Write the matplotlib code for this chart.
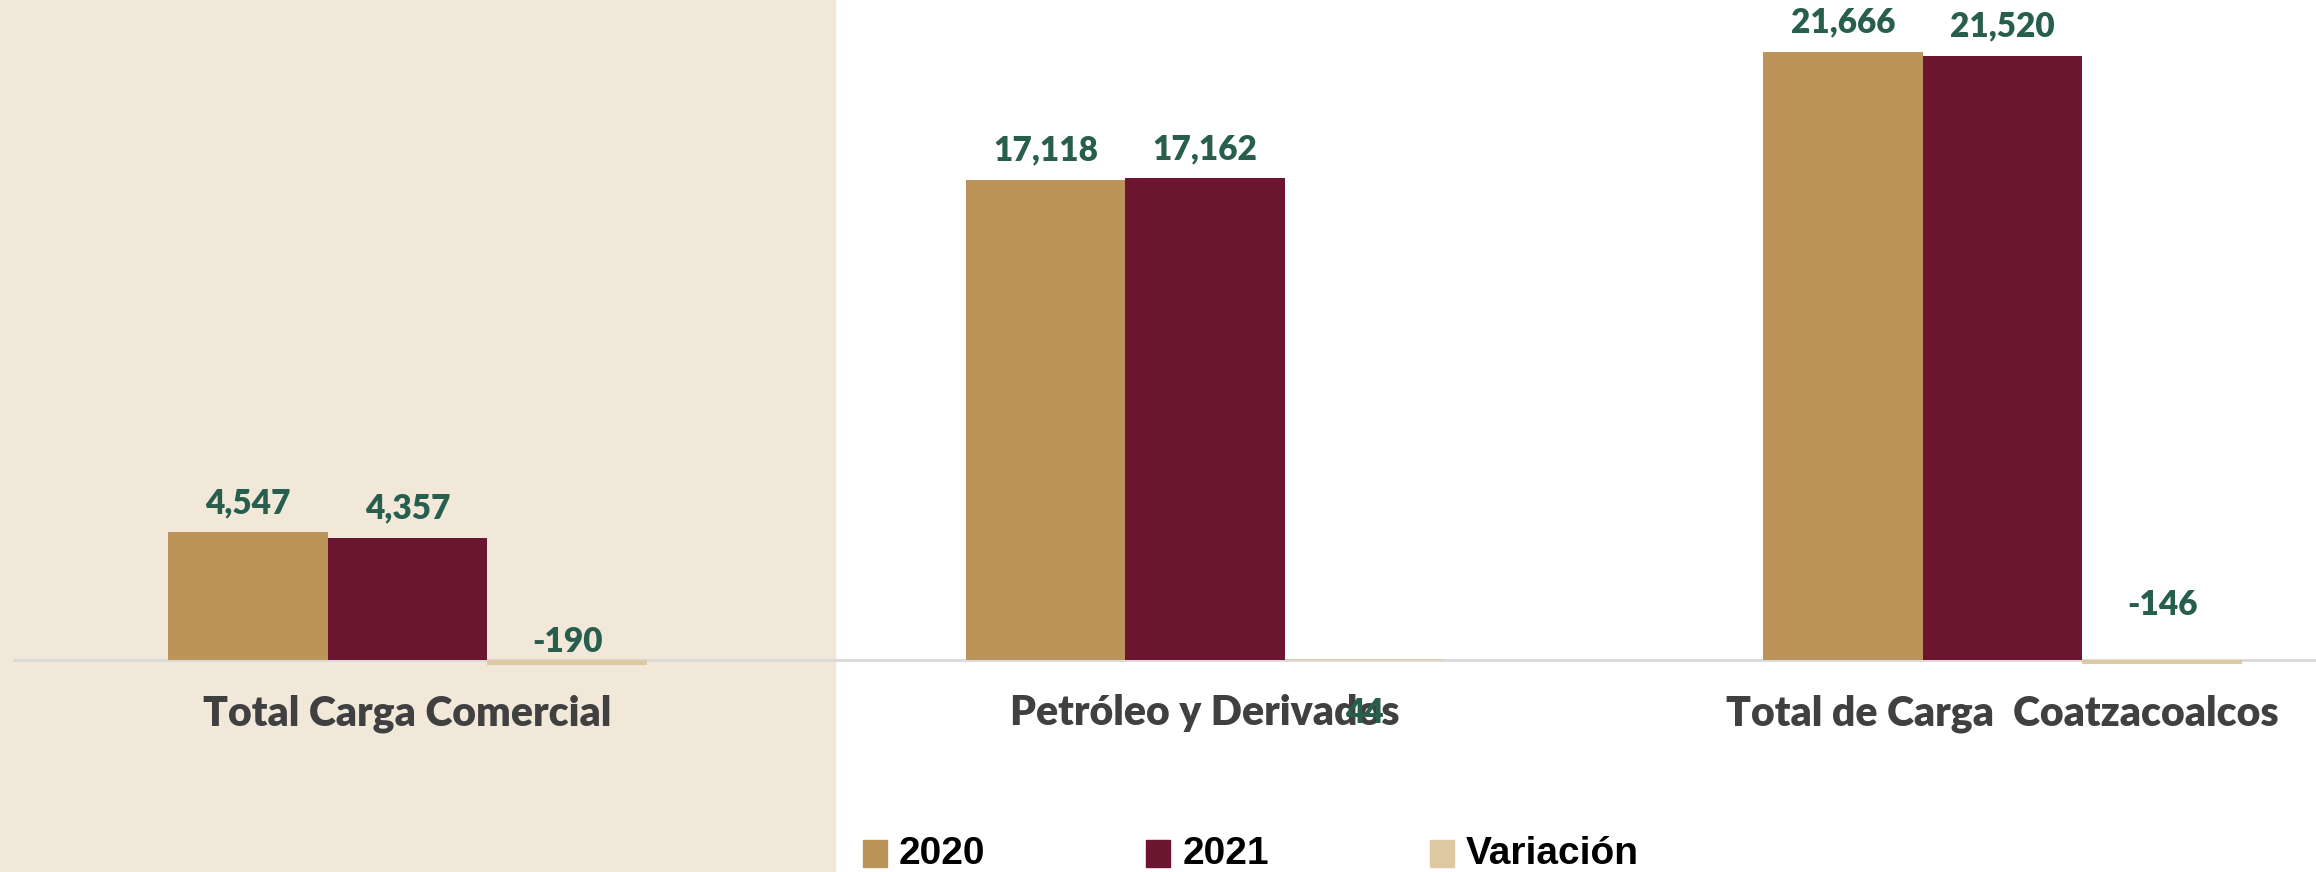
import numpy as np
import matplotlib.pyplot as plt
from matplotlib.patches import Rectangle

# ------------------------------------------------------------
# Data
# ------------------------------------------------------------
categories = ["Total Carga Comercial", "Petróleo y Derivados",
              "Total de Carga  Coatzacoalcos"]
series_names = ["2020", "2021", "Variación"]
values_2020 = [4547, 17118, 21666]
values_2021 = [4357, 17162, 21520]
values_var = [-190, 44, -146]
label_2020 = ["4,547", "17,118", "21,666"]
label_2021 = ["4,357", "17,162", "21,520"]
label_var = ["-190", "44", "-146"]
# the variation labels sit at odd heights in the original
var_label_y = [630, -1900, 1950]

colors = ["#bc9459", "#6b1530", "#dfc9a3"]
green = "#275e4e"

fig = plt.figure(figsize=(23.16, 8.72), dpi=100)
# beige panel on the left side of the slide
fig.patches.append(Rectangle((0, 0), 835 / 2316, 1, transform=fig.transFigure,
                             color="#f1e8da", zorder=-5))

ax = fig.add_axes([0, 0, 1, 1], zorder=1)
ax.patch.set_alpha(0)
for s in ax.spines.values():
    s.set_visible(False)
ax.set_xticks([])
ax.set_yticks([])
ax.set_xlim(-0.511, 2.393)
ax.set_ylim(-7555, 23521)

x = np.arange(len(categories))
w = 0.2
ax.bar(x - w, values_2020, w, color=colors[0], zorder=2)
ax.bar(x, values_2021, w, color=colors[1], zorder=2)
ax.bar(x + w, values_var, w, color=colors[2], zorder=2)
ax.axhline(0, xmin=0.006, xmax=1, color="#d9d9d9", lw=2, zorder=1)

# category names first, so the value labels land on top of them
for i in range(len(categories)):
    ax.text(x[i], -1900, categories[i], family=["Lato", "DejaVu Sans"],
            fontweight="heavy", fontsize=29.5, color="#404040",
            ha="center", va="center")

lab_font = dict(family=["Lato", "DejaVu Sans"], fontweight="heavy",
                fontsize=24, color=green, ha="center", va="center")
for i in range(len(categories)):
    ax.text(x[i] - w, values_2020[i] + 1050, label_2020[i], **lab_font)
    ax.text(x[i], values_2021[i] + 1050, label_2021[i], **lab_font)
    ax.text(x[i] + w, var_label_y[i], label_var[i], **lab_font)

# legend along the bottom edge
leg_x = [584, 776, 968]
for i, name in enumerate(series_names):
    fx = leg_x[i] * 2316 / 1568 / 2316
    fig.patches.append(Rectangle((fx, 0.006), 24 / 2316, 27 / 872,
                                 transform=fig.transFigure, color=colors[i]))
    fig.text(fx + 36 / 2316, 0.021, name, family=["Liberation Sans", "DejaVu Sans"],
             fontweight="bold", fontsize=28, color="black", va="center")

fig.savefig("out.png", dpi=100)
